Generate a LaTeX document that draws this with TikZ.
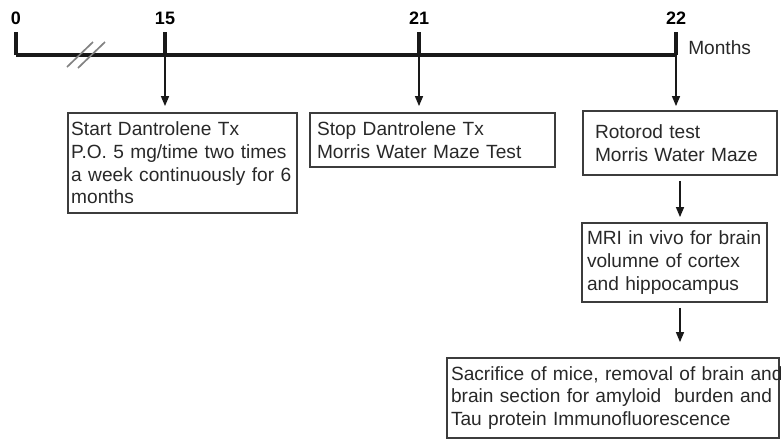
\documentclass[tikz,border=0pt]{standalone}
\usepackage{fontspec}
\setmainfont{Liberation Sans}
\usetikzlibrary{positioning,arrows.meta}
\definecolor{boxgray}{RGB}{60,60,60}
\definecolor{textgray}{RGB}{40,40,40}
\definecolor{breakgray}{RGB}{130,130,130}

\begin{document}
\begin{tikzpicture}[
        % Node styles
        stepbox/.style={draw=boxgray, line width=1.3pt, align=left, text=textgray, font=\fontsize{13.6}{16.2}\selectfont, inner ysep=2pt},
        monthlabel/.style={font=\fontsize{12.8}{14}\selectfont\bfseries, text=black},
        axisline/.style={line width=2.2pt, black!90},
        flow/.style={-{Triangle[length=0.25cm,width=0.2cm]}, line width=1pt, black!90}
    ]
    \useasboundingbox (0,0) rectangle (19.525,-11.025);

    % Timeline points
    \coordinate (m0) at (0.4, -1.375);
    \coordinate (m15) at (4.125, -1.375);
    \coordinate (m21) at (10.475, -1.375);
    \coordinate (m22) at (16.9, -1.375);

    % Month labels
    \node[monthlabel] (l0) at (0.4, -0.45) {0};
    \node[monthlabel] (l15) at (4.125, -0.45) {15};
    \node[monthlabel] (l21) at (10.475, -0.45) {21};
    \node[monthlabel] (l22) at (16.9, -0.45) {22};
    \node[anchor=west, text=textgray, font=\fontsize{13.6}{16}\selectfont, inner sep=0pt] (unit) at (17.2, -1.2) {Months};

    % Axis and ticks
    \draw[axisline] (m0) -- (m22);
    \draw[axisline] (m0) -- ++(0, 0.575);
    \draw[axisline] (m15) -- ++(0, 0.575);
    \draw[axisline] (m21) -- ++(0, 0.575);
    \draw[axisline] (m22) -- ++(0, 0.575);

    % Axis break
    \draw[breakgray, line width=1.2pt] (1.675, -1.675) -- (2.325, -1.05);
    \draw[breakgray, line width=1.2pt] (1.95, -1.7) -- (2.625, -1.05);

    % Boxes
    \node[stepbox, text width=5.565cm, inner xsep=0.08cm, minimum height=2.5cm] (start) at (4.5625, -4.075)
        {Start Dantrolene Tx\\\mbox{P.O. 5 mg/time two times}\\\mbox{a week continuously for 6}\\months};
    \node[stepbox, text width=5.775cm, inner xsep=0.175cm, minimum height=1.35cm] (stop) at (10.8125, -3.5)
        {Stop Dantrolene Tx\\Morris Water Maze Test};
    \node[stepbox, text width=4.25cm, inner xsep=0.3cm, minimum height=1.6cm] (rotorod) at (17.0, -3.575)
        {Rotorod test\\Morris Water Maze};
    \node[stepbox, text width=4.375cm, inner xsep=0.125cm, minimum height=1.975cm] (mri) at (16.8625, -6.5625)
        {\mbox{MRI in vivo for brain}\\\mbox{volumne of cortex}\\\mbox{and hippocampus}};
    \node[stepbox, text width=8.1cm, inner xsep=0.1cm, minimum height=2.0cm] (sacrifice) at (15.325, -9.95)
        {\mbox{Sacrifice of mice, removal of brain and}\\\mbox{brain section for amyloid\ \ burden and}\\\mbox{Tau protein Immunofluorescence}};

    % Arrows
    \draw[flow, shorten >=0.15cm] (m15) -- (m15 |- start.north);
    \draw[flow, shorten >=0.15cm] (m21) -- (m21 |- stop.north);
    \draw[flow, shorten >=0.1cm] (m22) -- (m22 |- rotorod.north);
    \draw[flow, shorten <=0.125cm, shorten >=0.125cm] (rotorod.south) -- (rotorod.south |- mri.north);
    \draw[flow, shorten <=0.125cm, shorten >=0.375cm] (rotorod.south |- mri.south) -- (rotorod.south |- sacrifice.north);

\end{tikzpicture}
\end{document}
